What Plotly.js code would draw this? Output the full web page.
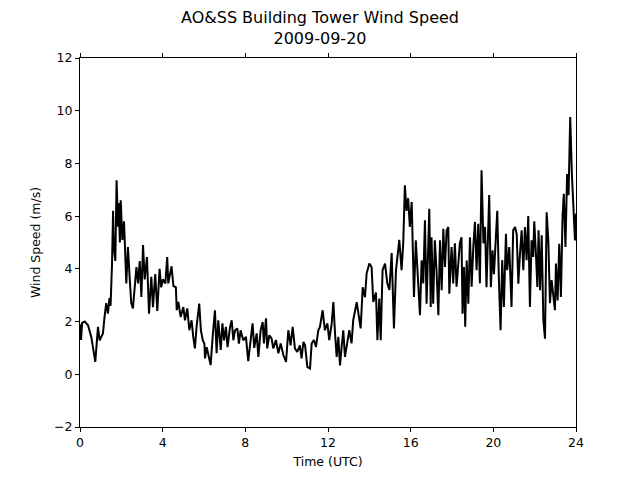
<!DOCTYPE html>
<html>
<head>
<meta charset="utf-8">
<script src="https://cdn.plot.ly/plotly-3.0.1.min.js"></script>
<style>html,body{margin:0;padding:0;background:#fff;}#chart{width:640px;height:480px;}</style>
</head>
<body>
<div id="chart"></div>
<script>
var chartTitle = "AO&amp;SS Building Tower Wind Speed<br>2009-09-20";
var xLabel = "Time (UTC)";
var yLabel = "Wind Speed (m/s)";
var xTicks = [0, 4, 8, 12, 16, 20, 24];
var yTicks = [-2, 0, 2, 4, 6, 8, 10, 12];

var hours = [
0.0,0.05,0.1,0.23,0.39,0.55,0.74,0.87,0.95,1.11,1.19,1.27,1.35,1.43,1.48,1.55,1.6,1.64,1.71,1.77,
1.84,1.87,1.93,1.97,2.05,2.13,2.24,2.32,2.4,2.48,2.56,2.73,2.81,2.89,2.97,3.05,3.13,3.24,3.34,3.45,
3.53,3.64,3.74,3.85,3.93,4.01,4.13,4.22,4.27,4.43,4.52,4.64,4.68,4.76,4.87,5.0,5.08,5.19,5.29,5.4,
5.48,5.56,5.64,5.77,5.85,5.94,6.02,6.05,6.13,6.26,6.32,6.42,6.53,6.61,6.69,6.81,6.89,6.97,7.06,7.14,
7.26,7.34,7.42,7.5,7.61,7.69,7.77,7.9,8.03,8.14,8.26,8.35,8.43,8.55,8.63,8.74,8.84,8.9,9.0,9.06,
9.16,9.27,9.35,9.48,9.6,9.71,9.84,9.97,10.08,10.19,10.29,10.4,10.51,10.64,10.72,10.81,10.89,11.0,11.13,11.21,
11.32,11.42,11.53,11.61,11.74,11.85,11.97,12.06,12.18,12.26,12.34,12.42,12.5,12.58,12.66,12.74,12.82,12.9,13.03,13.14,
13.22,13.39,13.47,13.58,13.68,13.79,13.87,14.0,14.11,14.19,14.32,14.39,14.48,14.55,14.64,14.76,14.87,14.97,15.08,15.19,
15.29,15.35,15.45,15.56,15.64,15.72,15.8,15.88,15.96,16.05,16.09,16.16,16.25,16.37,16.45,16.53,16.61,16.69,16.77,16.85,
16.9,16.97,17.01,17.09,17.17,17.25,17.34,17.42,17.5,17.58,17.66,17.74,17.82,17.87,17.98,18.06,18.14,18.22,18.3,18.38,
18.46,18.51,18.58,18.64,18.71,18.79,18.87,18.95,19.03,19.11,19.19,19.27,19.35,19.43,19.52,19.6,19.67,19.76,19.8,19.88,
19.96,20.03,20.13,20.19,20.27,20.35,20.43,20.51,20.61,20.67,20.77,20.88,20.96,21.05,21.13,21.21,21.29,21.37,21.45,21.53,
21.61,21.69,21.77,21.85,21.93,21.98,22.06,22.13,22.19,22.26,22.34,22.42,22.5,22.58,22.66,22.74,22.82,22.9,22.98,23.03,
23.11,23.19,23.27,23.35,23.41,23.49,23.57,23.64,23.72,23.8,23.88,23.95,24.0
];
var windSpeed = [
1.9,1.3,1.95,2.0,1.86,1.4,0.47,1.8,1.29,1.55,2.2,2.7,2.3,2.9,2.6,4.2,6.2,4.8,4.3,7.36,
5.6,6.5,5.0,6.6,5.1,5.8,3.45,4.83,3.7,2.7,2.5,4.07,3.45,4.3,2.93,4.9,3.6,4.45,2.3,3.7,
2.55,3.8,2.4,4.0,3.3,3.6,3.45,4.45,3.45,4.1,3.35,3.3,2.43,2.75,2.17,2.55,2.05,2.5,1.67,2.05,
1.42,0.98,1.8,2.68,1.67,1.29,1.16,0.6,1.03,0.55,0.35,1.42,2.43,0.8,2.05,0.92,1.93,1.29,1.8,1.03,
1.8,2.05,1.29,1.67,1.74,1.16,1.67,1.29,1.42,0.5,1.42,1.93,1.0,1.55,0.66,1.67,1.98,1.17,2.12,0.98,
1.48,1.36,0.98,1.3,0.8,1.17,0.73,0.47,1.67,1.1,1.8,0.98,0.85,1.1,0.6,1.23,1.1,0.28,0.22,1.17,
1.3,1.04,1.67,1.8,2.43,1.67,1.93,1.3,1.93,2.74,1.55,0.66,1.42,0.34,1.04,1.67,0.66,1.04,1.67,1.17,
2.05,2.74,2.3,1.74,3.3,2.93,3.83,4.2,4.07,2.74,3.1,1.29,2.87,1.29,3.95,4.2,3.45,3.2,4.6,1.74,
3.95,4.33,5.1,3.95,4.97,7.17,6.2,6.68,5.59,6.54,4.7,2.93,5.08,3.3,2.24,4.32,3.45,5.84,2.68,4.83,
6.28,2.55,5.2,2.68,5.08,3.95,2.24,5.08,3.19,5.52,4.07,5.46,5.59,3.06,4.83,3.45,4.97,3.32,4.32,4.97,
5.2,2.3,4.07,1.8,4.32,2.68,5.2,3.32,4.83,5.78,3.95,5.71,3.45,7.74,4.97,5.59,3.3,6.55,6.8,3.3,
4.7,3.8,5.2,6.2,3.57,1.67,4.33,2.55,5.33,3.95,4.83,2.55,5.46,5.59,5.33,3.44,4.58,5.46,3.95,5.59,
4.33,6.0,2.55,5.08,4.45,5.8,4.58,3.31,5.46,3.19,5.27,2.05,1.35,6.15,5.08,2.7,3.57,2.93,2.43,4.2,
2.8,4.95,2.93,6.0,6.85,4.83,7.6,6.8,9.76,7.6,6.1,5.08,6.1
];

var font = "DejaVu Sans, sans-serif";
var trace = {
  x: hours, y: windSpeed, type: "scatter", mode: "lines",
  line: {color: "#000000", width: 2}, hoverinfo: "skip"
};
var layout = {
  width: 640, height: 480,
  margin: {l: 80, r: 64, t: 58, b: 53, pad: 0},
  paper_bgcolor: "#ffffff", plot_bgcolor: "#ffffff",
  showlegend: false,
  font: {family: font, color: "#000000", size: 12},
  title: {text: chartTitle, x: 0.5, xanchor: "center", y: 0.952, yref: "container", yanchor: "top",
          font: {family: font, size: 16, color: "#000000"}},
  xaxis: {
    range: [0, 24], tickvals: xTicks, ticktext: xTicks.map(String),
    showgrid: false, zeroline: false, showline: true, linecolor: "#000", linewidth: 1,
    mirror: "ticks", ticks: "outside", ticklen: 4, tickcolor: "#000", tickwidth: 1,
    tickfont: {family: font, size: 12.5, color: "#000"},
    title: {text: xLabel, font: {family: font, size: 12.5, color: "#000"}, standoff: 8}
  },
  yaxis: {
    range: [-2, 12], tickvals: yTicks, ticktext: yTicks.map(function(v){return v < 0 ? "\u2212" + Math.abs(v) : String(v);}),
    showgrid: false, zeroline: false, showline: true, linecolor: "#000", linewidth: 1,
    mirror: true, ticks: "outside", ticklen: 4, tickcolor: "#000", tickwidth: 1,
    tickfont: {family: font, size: 12.5, color: "#000"},
    title: {text: yLabel, font: {family: font, size: 12.5, color: "#000"}, standoff: 10}
  }
};
Plotly.newPlot("chart", [trace], layout, {displayModeBar: false, staticPlot: true});
</script>
</body>
</html>
